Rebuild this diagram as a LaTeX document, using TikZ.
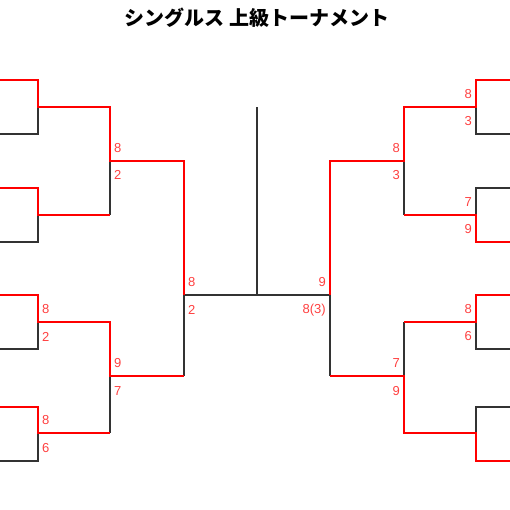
\documentclass[tikz,border=0pt]{standalone}
\usepackage{fontspec}
\setmainfont{Liberation Sans}
\newfontfamily\jpfont{Noto Sans CJK JP}
\usetikzlibrary{positioning}

\tikzset{
  win/.style={red, line width=2.2pt},
  lose/.style={black!80, line width=1.4pt},
  scoreL/.style={text=red!75!white, anchor=west, inner sep=0pt, font=\fontsize{13}{13}\selectfont},
  scoreR/.style={text=red!75!white, anchor=east, inner sep=0pt, font=\fontsize{13}{13}\selectfont}
}

\begin{document}
\begin{tikzpicture}[x=1pt, y=-1pt]
  \useasboundingbox (0,0) rectangle (510,510);

  % Title
  \node (title) at (257,18) {\jpfont\bfseries\fontsize{20}{20}\selectfont シングルス 上級トーナメント};

  % Final and trophy line
  \draw[lose] (184,376) -- (184,295) -- (330,295) -- (330,376);
  \draw[lose] (257,295) -- (257,107);

  % Left half, losing branches
  \draw[lose] (0,134) -| (38,107);
  \draw[lose] (0,242) -| (38,215);
  \draw[lose] (110,215) -- (110,161);
  \draw[lose] (0,349) -| (38,322);
  \draw[lose] (0,461) -| (38,433);
  \draw[lose] (110,433) -- (110,376);

  % Left half, winning branches
  \draw[win] (0,80) -| (38,107) -- (110,107) |- (184,161) -- (184,295);
  \draw[win] (0,188) -| (38,215) -- (110,215);
  \draw[win] (0,295) -| (38,322) -- (110,322) |- (184,376);
  \draw[win] (0,407) -| (38,433) -- (110,433);

  % Right half, losing branches
  \draw[lose] (510,134) -| (476,107);
  \draw[lose] (510,188) -| (476,215);
  \draw[lose] (404,215) -- (404,161);
  \draw[lose] (510,349) -| (476,322);
  \draw[lose] (404,322) -- (404,376);
  \draw[lose] (510,407) -| (476,433);

  % Right half, winning branches
  \draw[win] (510,80) -| (476,107) -- (404,107) |- (330,161) -- (330,295);
  \draw[win] (510,242) -| (476,215) -- (404,215);
  \draw[win] (510,295) -| (476,322) -- (404,322);
  \draw[win] (510,461) -| (476,433) -- (404,433) |- (330,376);

  % Scores, left
  \node[scoreL] (l2a) at (114,148) {8};
  \node[scoreL] (l2b) at (114,175) {2};
  \node[scoreL] (l3a) at (42,309) {8};
  \node[scoreL] (l3b) at (42,337) {2};
  \node[scoreL] (l4a) at (42,420) {8};
  \node[scoreL] (l4b) at (42,448) {6};
  \node[scoreL] (l5a) at (114,363) {9};
  \node[scoreL] (l5b) at (114,391) {7};
  \node[scoreL] (l6a) at (188,282) {8};
  \node[scoreL] (l6b) at (188,310) {2};

  % Scores, right
  \node[scoreR] (r1a) at (472,94) {8};
  \node[scoreR] (r1b) at (472,121) {3};
  \node[scoreR] (r2a) at (472,202) {7};
  \node[scoreR] (r2b) at (472,229) {9};
  \node[scoreR] (r3a) at (400,148) {8};
  \node[scoreR] (r3b) at (400,175) {3};
  \node[scoreR] (r4a) at (472,309) {8};
  \node[scoreR] (r4b) at (472,336) {6};
  \node[scoreR] (r5a) at (400,363) {7};
  \node[scoreR] (r5b) at (400,391) {9};
  \node[scoreR] (r6a) at (326,282) {9};
  \node[scoreR] (r6b) at (326,310) {8(3)};
\end{tikzpicture}
\end{document}
